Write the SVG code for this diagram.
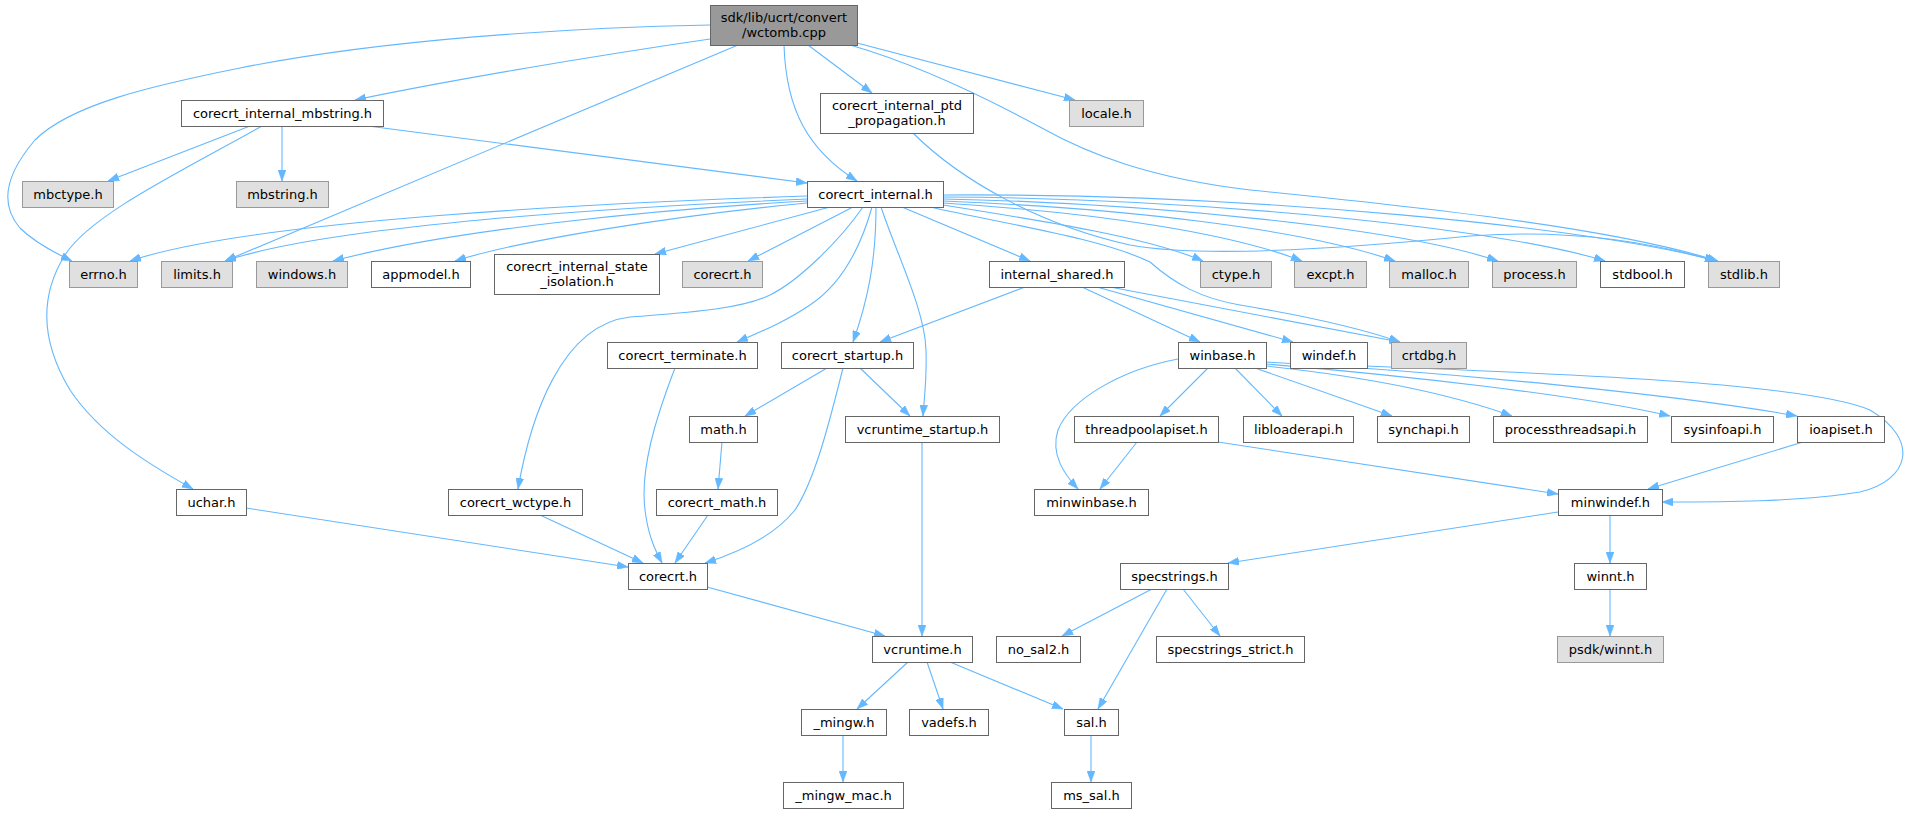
<svg xmlns="http://www.w3.org/2000/svg" width="1916" height="813" viewBox="0 0 1916 813">
<style>
.n rect{fill:#ffffff;stroke:#666666;stroke-width:1}
.g rect{fill:#e0e0e0;stroke:#999999;stroke-width:1}
.r rect{fill:#999999;stroke:#666666;stroke-width:1}
text{font-family:"DejaVu Sans","Noto Sans",sans-serif;font-size:13px;text-anchor:middle;fill:#000000}
#edges path{fill:none;stroke:#63b8ff;stroke-width:1.1;marker-end:url(#a)}
</style>
<defs>
<marker id="a" markerUnits="userSpaceOnUse" markerWidth="11" markerHeight="8" refX="11" refY="4" orient="auto">
<path d="M0,0 L11,4 L0,8 z" fill="#63b8ff" stroke="#63b8ff" stroke-width="0.5"/>
</marker>
</defs>
<rect width="1916" height="813" fill="#ffffff"/>
<g id="edges">
<path d="M710,25 C560,28 380,40 240,68 C150,86 70,105 35,140 C5,175 0,205 20,228 C35,243 55,253 72,261"/>
<path d="M710,39 C600,55 450,80 355,100"/>
<path d="M738,45 L225,261"/>
<path d="M784,45 C786,110 808,150 857,181"/>
<path d="M808,45 L872,93"/>
<path d="M857,43 L1075,100"/>
<path d="M850,45 C920,65 990,100 1040,127 C1090,155 1150,178 1250,190 C1450,210 1620,230 1718,261"/>
<path d="M250,126 L108,181"/>
<path d="M282,126 L282,181"/>
<path d="M262,126 C180,172 90,215 65,255 C40,295 40,340 70,390 C100,435 150,465 193,489"/>
<path d="M368,126 L807,183"/>
<path d="M807,196 C600,203 250,220 130,261"/>
<path d="M807,199 C620,207 330,225 225,261"/>
<path d="M807,201 C650,210 450,230 333,261"/>
<path d="M807,203 C680,215 520,240 455,261"/>
<path d="M830,207 L655,254"/>
<path d="M853,207 L748,261"/>
<path d="M863,207 C840,240 800,280 770,295 C740,310 680,313 630,317 C560,325 530,420 518,489"/>
<path d="M872,207 C860,250 840,285 810,305 C785,322 760,332 737,342"/>
<path d="M876,207 C876,260 868,300 853,342"/>
<path d="M881,207 C895,250 925,310 926,350 C927,380 924,400 923,416"/>
<path d="M902,207 L1030,261"/>
<path d="M930,207 C1010,225 1100,238 1150,262 C1175,284 1200,298 1240,305 C1300,315 1360,328 1400,342"/>
<path d="M913,133 C960,180 1040,225 1130,245 C1200,258 1330,250 1470,236 C1580,228 1660,245 1716,261"/>
<path d="M943,205 C1050,222 1150,238 1203,261"/>
<path d="M943,203 C1100,213 1230,233 1302,261"/>
<path d="M943,201 C1120,208 1300,228 1395,261"/>
<path d="M943,199 C1150,203 1400,228 1498,261"/>
<path d="M943,197 C1200,198 1500,228 1605,261"/>
<path d="M943,195 C1250,193 1600,228 1716,261"/>
<path d="M827,368 L745,416"/>
<path d="M860,368 L910,416"/>
<path d="M843,368 C830,420 815,480 795,510 C775,535 740,552 705,563"/>
<path d="M675,368 C655,420 640,470 645,510 C648,535 655,550 662,563"/>
<path d="M722,442 L718,489"/>
<path d="M708,515 L675,563"/>
<path d="M540,515 L643,563"/>
<path d="M246,508 L628,567"/>
<path d="M707,587 L885,636"/>
<path d="M922,442 L922,636"/>
<path d="M908,662 L857,709"/>
<path d="M927,662 L943,709"/>
<path d="M950,662 L1063,709"/>
<path d="M843,735 L843,782"/>
<path d="M1091,735 L1091,782"/>
<path d="M1152,589 L1062,636"/>
<path d="M1167,589 L1098,709"/>
<path d="M1183,589 L1220,636"/>
<path d="M1558,512 L1228,563"/>
<path d="M1610,515 L1610,563"/>
<path d="M1610,589 L1610,636"/>
<path d="M1025,287 L880,342"/>
<path d="M1082,287 L1200,342"/>
<path d="M1097,287 L1293,342"/>
<path d="M1110,287 L1400,342"/>
<path d="M1178,359 C1120,370 1070,400 1058,430 C1050,455 1065,475 1078,489"/>
<path d="M1208,368 L1160,416"/>
<path d="M1235,368 L1282,416"/>
<path d="M1255,368 L1392,416"/>
<path d="M1266,366 C1350,375 1440,390 1512,416"/>
<path d="M1266,364 C1400,375 1580,395 1670,416"/>
<path d="M1266,362 C1450,372 1680,395 1797,416"/>
<path d="M1367,366 C1500,372 1800,380 1870,410 C1920,440 1910,480 1860,492 C1800,502 1720,502 1662,502"/>
<path d="M1137,442 L1100,489"/>
<path d="M1218,442 L1558,494"/>
<path d="M1803,442 L1648,489"/>
</g>
<g id="nodes" transform="translate(0.5,0.5)">
<g id="n_root" class="r"><rect x="710" y="5" width="147" height="40"/><text x="783.5" y="21">sdk/lib/ucrt/convert</text><text x="783.5" y="36">/wctomb.cpp</text></g>
<g id="n_mbstring_int" class="n"><rect x="181" y="100" width="202" height="26"/><text x="282" y="117">corecrt_internal_mbstring.h</text></g>
<g id="n_locale" class="g"><rect x="1069" y="100" width="74" height="26"/><text x="1106" y="117">locale.h</text></g>
<g id="n_ptd" class="n"><rect x="820" y="93" width="153" height="40"/><text x="896.5" y="109">corecrt_internal_ptd</text><text x="896.5" y="124">_propagation.h</text></g>
<g id="n_mbctype" class="g"><rect x="22" y="181" width="91" height="26"/><text x="67.5" y="198">mbctype.h</text></g>
<g id="n_mbstring" class="g"><rect x="236" y="181" width="92" height="26"/><text x="282" y="198">mbstring.h</text></g>
<g id="n_internal" class="n"><rect x="807" y="181" width="136" height="26"/><text x="875" y="198">corecrt_internal.h</text></g>
<g id="n_errno" class="g"><rect x="69" y="261" width="68" height="26"/><text x="103" y="278">errno.h</text></g>
<g id="n_limits" class="g"><rect x="161" y="261" width="71" height="26"/><text x="196.5" y="278">limits.h</text></g>
<g id="n_windows" class="g"><rect x="256" y="261" width="91" height="26"/><text x="301.5" y="278">windows.h</text></g>
<g id="n_appmodel" class="n"><rect x="371" y="261" width="99" height="26"/><text x="420.5" y="278">appmodel.h</text></g>
<g id="n_state" class="n"><rect x="494" y="254" width="165" height="40"/><text x="576.5" y="270">corecrt_internal_state</text><text x="576.5" y="285">_isolation.h</text></g>
<g id="n_corecrt_g" class="g"><rect x="682" y="261" width="80" height="26"/><text x="722" y="278">corecrt.h</text></g>
<g id="n_internal_shared" class="n"><rect x="989" y="261" width="135" height="26"/><text x="1056.5" y="278">internal_shared.h</text></g>
<g id="n_ctype" class="g"><rect x="1200" y="261" width="71" height="26"/><text x="1235.5" y="278">ctype.h</text></g>
<g id="n_excpt" class="g"><rect x="1294" y="261" width="72" height="26"/><text x="1330" y="278">excpt.h</text></g>
<g id="n_malloc" class="g"><rect x="1389" y="261" width="79" height="26"/><text x="1428.5" y="278">malloc.h</text></g>
<g id="n_process" class="g"><rect x="1492" y="261" width="84" height="26"/><text x="1534" y="278">process.h</text></g>
<g id="n_stdbool" class="n"><rect x="1600" y="261" width="84" height="26"/><text x="1642" y="278">stdbool.h</text></g>
<g id="n_stdlib" class="g"><rect x="1708" y="261" width="71" height="26"/><text x="1743.5" y="278">stdlib.h</text></g>
<g id="n_terminate" class="n"><rect x="607" y="342" width="150" height="26"/><text x="682" y="359">corecrt_terminate.h</text></g>
<g id="n_startup" class="n"><rect x="781" y="342" width="132" height="26"/><text x="847" y="359">corecrt_startup.h</text></g>
<g id="n_winbase" class="n"><rect x="1178" y="342" width="88" height="26"/><text x="1222" y="359">winbase.h</text></g>
<g id="n_windef" class="n"><rect x="1290" y="342" width="77" height="26"/><text x="1328.5" y="359">windef.h</text></g>
<g id="n_crtdbg" class="g"><rect x="1391" y="342" width="75" height="26"/><text x="1428.5" y="359">crtdbg.h</text></g>
<g id="n_math" class="n"><rect x="689" y="416" width="68" height="26"/><text x="723" y="433">math.h</text></g>
<g id="n_vcr_startup" class="n"><rect x="845" y="416" width="154" height="26"/><text x="922" y="433">vcruntime_startup.h</text></g>
<g id="n_threadpool" class="n"><rect x="1074" y="416" width="144" height="26"/><text x="1146" y="433">threadpoolapiset.h</text></g>
<g id="n_libloader" class="n"><rect x="1243" y="416" width="110" height="26"/><text x="1298" y="433">libloaderapi.h</text></g>
<g id="n_synchapi" class="n"><rect x="1377" y="416" width="92" height="26"/><text x="1423" y="433">synchapi.h</text></g>
<g id="n_processthreads" class="n"><rect x="1493" y="416" width="154" height="26"/><text x="1570" y="433">processthreadsapi.h</text></g>
<g id="n_sysinfo" class="n"><rect x="1671" y="416" width="102" height="26"/><text x="1722" y="433">sysinfoapi.h</text></g>
<g id="n_ioapiset" class="n"><rect x="1797" y="416" width="87" height="26"/><text x="1840.5" y="433">ioapiset.h</text></g>
<g id="n_uchar" class="n"><rect x="176" y="489" width="70" height="26"/><text x="211" y="506">uchar.h</text></g>
<g id="n_wctype" class="n"><rect x="448" y="489" width="134" height="26"/><text x="515" y="506">corecrt_wctype.h</text></g>
<g id="n_cmath" class="n"><rect x="656" y="489" width="121" height="26"/><text x="716.5" y="506">corecrt_math.h</text></g>
<g id="n_minwinbase" class="n"><rect x="1034" y="489" width="114" height="26"/><text x="1091" y="506">minwinbase.h</text></g>
<g id="n_minwindef" class="n"><rect x="1558" y="489" width="104" height="26"/><text x="1610" y="506">minwindef.h</text></g>
<g id="n_corecrt" class="n"><rect x="628" y="563" width="79" height="26"/><text x="667.5" y="580">corecrt.h</text></g>
<g id="n_specstrings" class="n"><rect x="1120" y="563" width="108" height="26"/><text x="1174" y="580">specstrings.h</text></g>
<g id="n_winnt" class="n"><rect x="1574" y="563" width="72" height="26"/><text x="1610" y="580">winnt.h</text></g>
<g id="n_vcruntime" class="n"><rect x="872" y="636" width="100" height="26"/><text x="922" y="653">vcruntime.h</text></g>
<g id="n_nosal2" class="n"><rect x="996" y="636" width="84" height="26"/><text x="1038" y="653">no_sal2.h</text></g>
<g id="n_strict" class="n"><rect x="1156" y="636" width="148" height="26"/><text x="1230" y="653">specstrings_strict.h</text></g>
<g id="n_psdk" class="g"><rect x="1557" y="636" width="106" height="26"/><text x="1610" y="653">psdk/winnt.h</text></g>
<g id="n_mingw" class="n"><rect x="801" y="709" width="85" height="26"/><text x="843.5" y="726">_mingw.h</text></g>
<g id="n_vadefs" class="n"><rect x="909" y="709" width="79" height="26"/><text x="948.5" y="726">vadefs.h</text></g>
<g id="n_sal" class="n"><rect x="1064" y="709" width="54" height="26"/><text x="1091" y="726">sal.h</text></g>
<g id="n_mingw_mac" class="n"><rect x="783" y="782" width="120" height="26"/><text x="843" y="799">_mingw_mac.h</text></g>
<g id="n_mssal" class="n"><rect x="1051" y="782" width="80" height="26"/><text x="1091" y="799">ms_sal.h</text></g>
</g>
</svg>
